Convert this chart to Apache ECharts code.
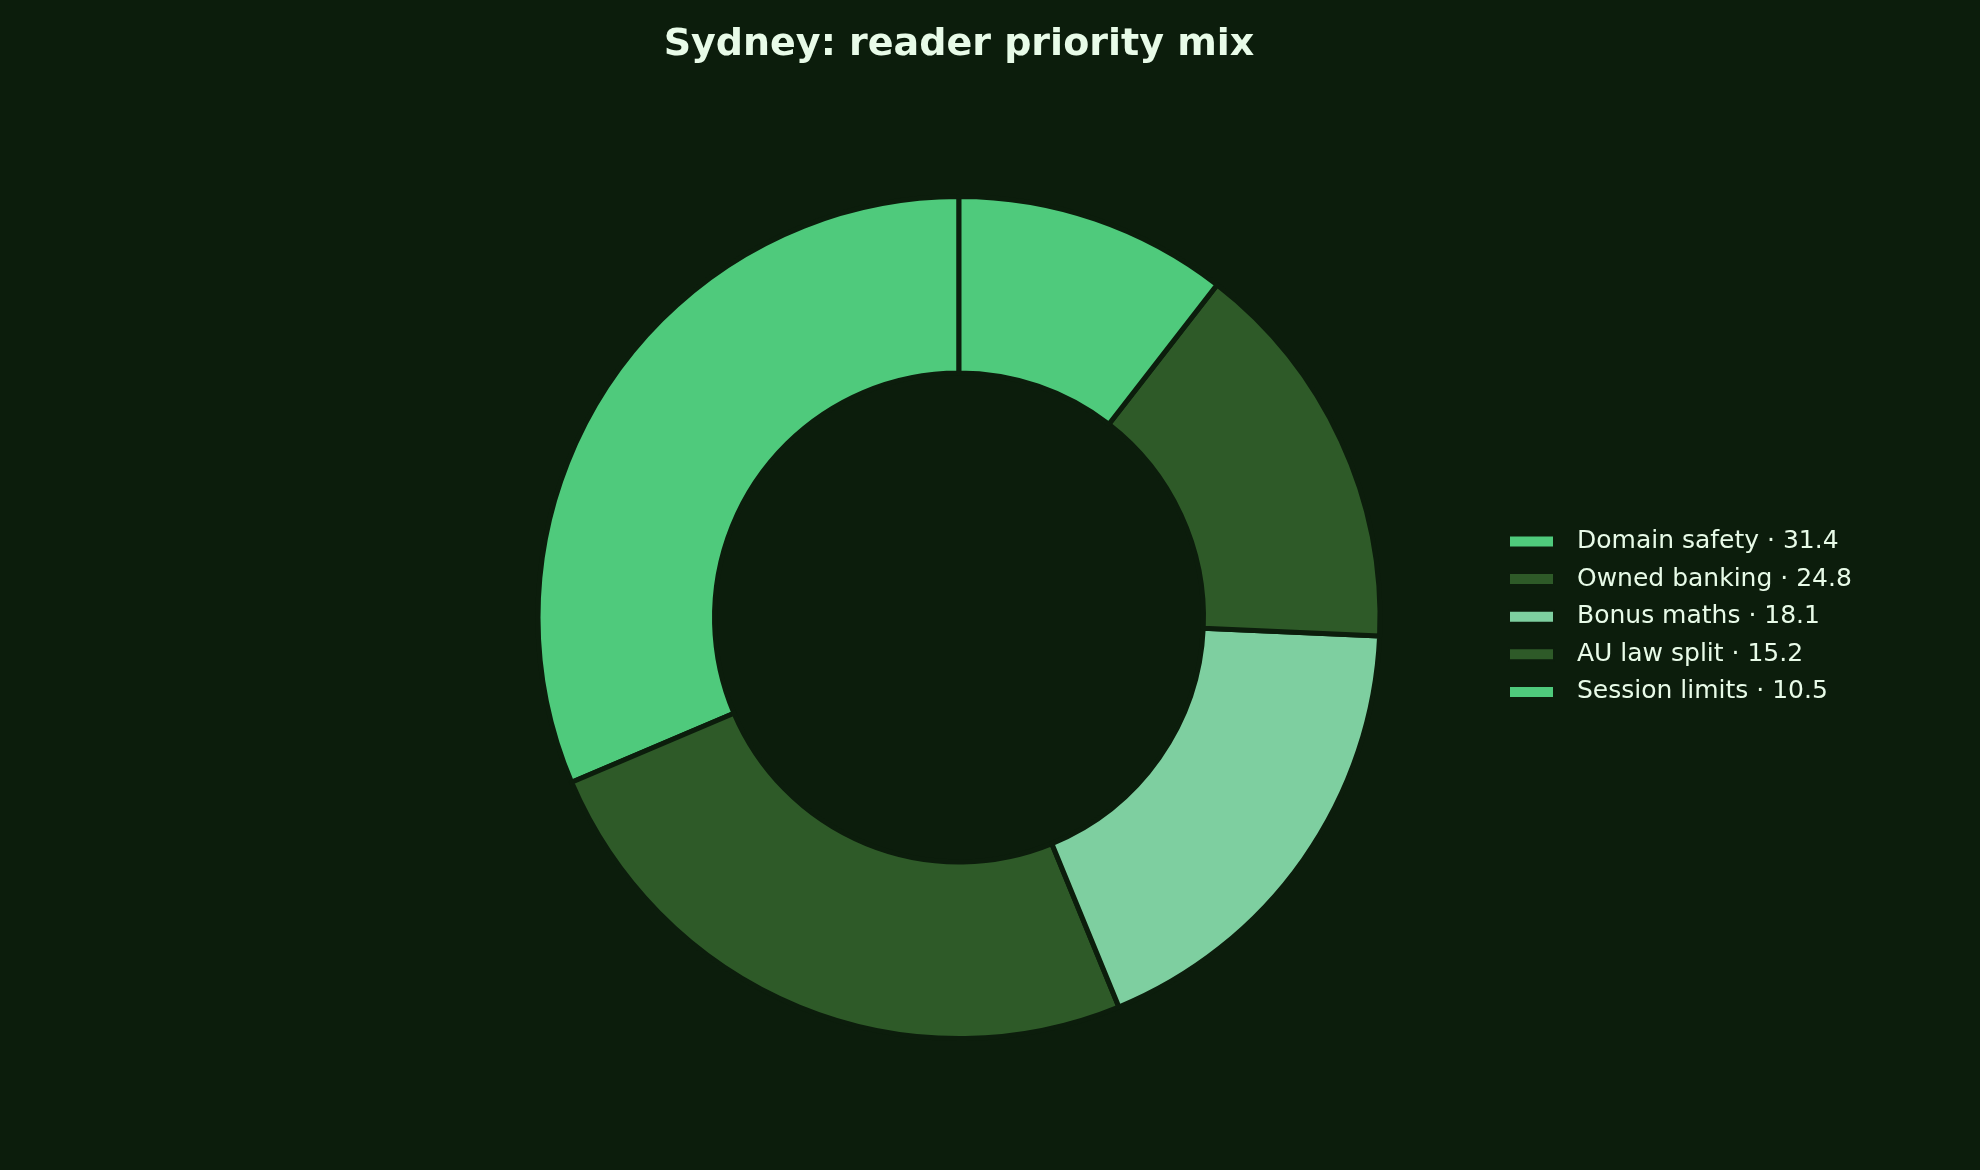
<!DOCTYPE html>
<html>
<head>
<meta charset="utf-8">
<script src="https://cdn.jsdelivr.net/npm/echarts@6/dist/echarts.min.js"></script>
<style>
html,body{margin:0;padding:0;background:#0c1d0c;}
#chart{width:1980px;height:1170px;}
</style>
</head>
<body>
<div id="chart"></div>
<script>
const titleText = 'Sydney: reader priority mix';
const categories = ['Domain safety', 'Owned banking', 'Bonus maths', 'AU law split', 'Session limits'];
const values = [31.4, 24.8, 18.1, 15.2, 10.5];
const colors = ['#4fca7c', '#2e5a28', '#7ecfa0', '#2e5a28', '#4fca7c'];

const bg = '#0c1d0c';
const textColor = '#e8fbe8';

const chart = echarts.init(document.getElementById('chart'), null, {renderer: 'canvas'});
const data = categories.map((c, i) => ({name: c, value: values[i], itemStyle: {color: colors[i]}}));
const valueByName = {};
categories.forEach((c, i) => valueByName[c] = values[i]);

chart.setOption({
  backgroundColor: bg,
  animation: false,
  title: {
    text: titleText,
    left: 954,
    top: 21,
    textAlign: 'center',
    textStyle: {color: textColor, fontFamily: 'DejaVu Sans', fontWeight: 'bold', fontSize: 38}
  },
  legend: {
    orient: 'vertical',
    left: 1503,
    top: 524,
    itemWidth: 45,
    itemHeight: 12,
    itemGap: 12.6,
    icon: 'rect',
    formatter: n => n + ' · ' + valueByName[n],
    textStyle: {color: textColor, fontFamily: 'DejaVu Sans', fontSize: 25, lineHeight: 25, padding: [0, 0, 0, 18]},
    data: categories
  },
  series: [{
    type: 'pie',
    center: [959, 617.5],
    radius: [244.5, 421],
    startAngle: 90,
    clockwise: false,
    label: {show: false},
    labelLine: {show: false},
    emphasis: {disabled: true},
    itemStyle: {borderColor: bg, borderWidth: 5},
    data: data
  }]
});
</script>
</body>
</html>
